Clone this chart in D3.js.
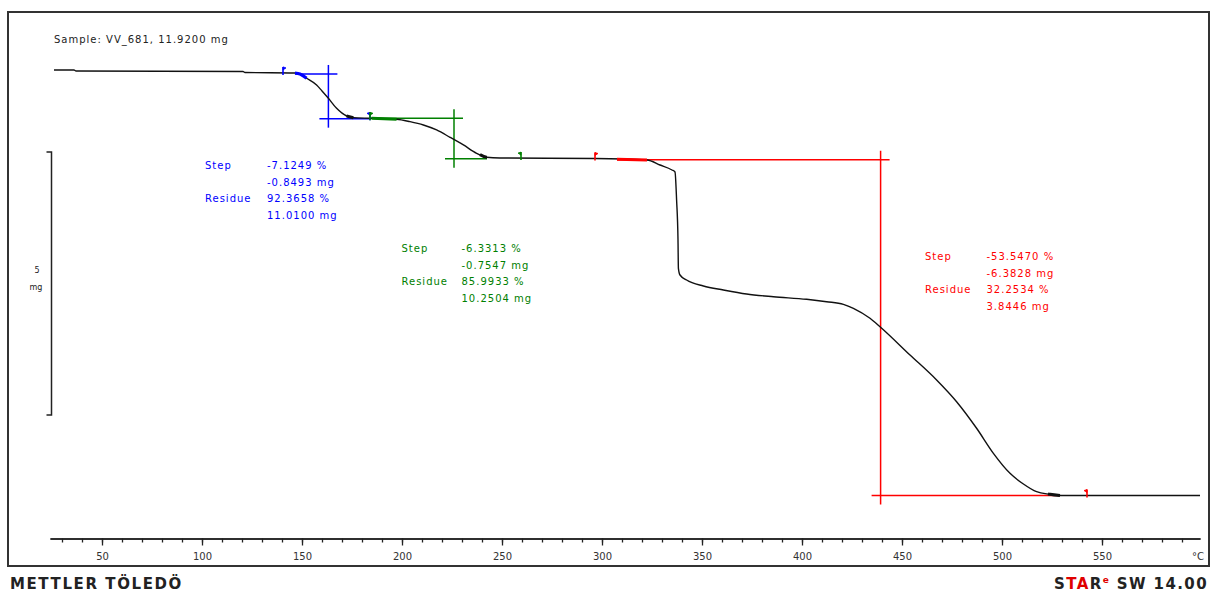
<!DOCTYPE html>
<html><head><meta charset="utf-8">
<script src="https://cdn.jsdelivr.net/npm/d3@7"></script>
<style>
html,body{margin:0;padding:0;background:#fff;}
svg{display:block;}
text{font-family:"DejaVu Sans",sans-serif;}
</style></head><body>
<svg id="chart" width="1213" height="593"></svg>
<script>
// ---- data ----
const temperatureC = [26, 36, 37, 120.5, 121.5, 146.5, 149, 152.3, 157.3, 160, 163.2, 167.3, 172.3, 175.7, 184, 197.3, 204, 210.7, 217.3, 224, 230.7, 237.3, 242.3, 249, 296.5, 322.5, 329, 335, 336.5, 337.3, 338, 338.2, 339, 342.3, 350.7, 360.7, 372.3, 385.7, 402.3, 412.3, 420.7, 425.7, 434, 439, 454, 467.3, 477.3, 487.3, 495.7, 504, 510.7, 517.3, 524, 529, 599];
const massMg = [11.935, 11.935, 11.916, 11.907, 11.888, 11.878, 11.859, 11.778, 11.650, 11.536, 11.397, 11.207, 11.061, 11.029, 11.017, 10.998, 10.953, 10.890, 10.795, 10.656, 10.510, 10.352, 10.276, 10.262, 10.253, 10.224, 10.129, 10.034, 9.996, 9.464, 8.703, 8.165, 8.038, 7.943, 7.829, 7.753, 7.677, 7.625, 7.576, 7.530, 7.481, 7.405, 7.215, 7.055, 6.517, 6.042, 5.629, 5.124, 4.648, 4.268, 4.065, 3.918, 3.869, 3.845, 3.845];

const minorTicks = d3.range(30, 591, 10);
const majorTickLabels = [50, 100, 150, 200, 250, 300, 350, 400, 450, 500, 550];

const stepColors = ["#0000ff", "#008000", "#ff0000"];
const stepStartT = [146.5, 184, 307.5];
const stepInflectionT = [163.2, 226, 439.3];
const stepEndT = [184, 242.5, 529];
const stepUpperMg = [11.86, 11.02, 10.2274];
const stepLowerMg = [11.01, 10.2504, 3.8446];
const onsetThickT = [[146.5, 152.3], [184.8, 197.3], [307.5, 322.5]];
const endThickT = [[172.3, 175.7], [239, 242.5], [523, 529]];
const stepPercent = ["-7.1249 %", "-6.3313 %", "-53.5470 %"];
const stepMass = ["-0.8493 mg", "-0.7547 mg", "-6.3828 mg"];
const residuePercent = ["92.3658 %", "85.9933 %", "32.2534 %"];
const residueMass = ["11.0100 mg", "10.2504 mg", "3.8446 mg"];

const limitT = [140.5, 184, 184, 259.5, 296.5, 542.5];
const limitStep = [0, 0, 1, 1, 2, 2];
const limitDir = [1, -1, 1, -1, 1, -1];

const sampleLabel = "Sample: VV_681, 11.9200 mg";
const scaleBarMg = 5;

// ---- layout ----
const svg = d3.select("#chart");
const x = d3.scaleLinear().domain([24, 599]).range([50, 1200]);
const y = d3.scaleLinear().domain([3, 13]).range([540, 14]);
const axisY = 538.5;

// frame
svg.append("rect").attr("x", 8).attr("y", 12).attr("width", 1201).attr("height", 554)
  .attr("fill", "none").attr("stroke", "#333").attr("stroke-width", 2);

// sample label
svg.append("text").attr("x", 54).attr("y", 43).attr("font-size", 10).attr("letter-spacing", 1)
  .attr("fill", "#222").text(sampleLabel);

// scale bar
const sbTop = 152, sbLen = y(0) - y(scaleBarMg), sbX = 51.5;
svg.append("path").attr("d", `M${sbX-5},${sbTop}H${sbX}V${sbTop+sbLen}H${sbX-5}`)
  .attr("fill", "none").attr("stroke", "#222").attr("stroke-width", 1.5);
svg.append("text").attr("x", 37).attr("y", 273).attr("text-anchor", "middle")
  .attr("font-size", 8).attr("fill", "#222").text(scaleBarMg);
svg.append("text").attr("x", 36).attr("y", 290).attr("text-anchor", "middle")
  .attr("font-size", 8).attr("fill", "#222").text("mg");

// x axis
const gMinor = svg.append("g").attr("transform", `translate(0,${axisY})`)
  .call(d3.axisBottom(x).tickValues(minorTicks).tickSize(4).tickSizeOuter(0).tickFormat(""));
const gMajor = svg.append("g").attr("transform", `translate(0,${axisY})`)
  .call(d3.axisBottom(x).tickValues(majorTickLabels).tickSize(7).tickSizeOuter(0).tickPadding(7.5));
[gMinor, gMajor].forEach(g => {
  g.selectAll("path.domain").attr("stroke", "#222").attr("stroke-width", 1.5);
  g.selectAll(".tick line").attr("stroke", "#222").attr("stroke-width", 1.3);
});
gMajor.selectAll(".tick text").attr("font-family", "DejaVu Sans").attr("font-size", 10)
  .attr("fill", "#333");
svg.append("text").attr("x", 1204).attr("y", 560).attr("text-anchor", "end")
  .attr("font-size", 10).attr("fill", "#333").text("°C");

// curve helpers
const pts = temperatureC.map((t, i) => [t, massMg[i]]);
const massAt = t => {
  const i = d3.bisector(d => d[0]).left(pts, t);
  if (i <= 0) return pts[0][1];
  if (i >= pts.length) return pts[pts.length - 1][1];
  const a = pts[i - 1], b = pts[i];
  return a[1] + (b[1] - a[1]) * (t - a[0]) / (b[0] - a[0]);
};
const segment = (t1, t2) => {
  const inner = pts.filter(p => p[0] > t1 && p[0] < t2);
  return [[t1, massAt(t1)], ...inner, [t2, massAt(t2)]];
};
const line = d3.line().x(d => x(d[0])).y(d => y(d[1])).curve(d3.curveMonotoneX);

// step construction lines
const ext = 9;
stepColors.forEach((c, i) => {
  const g = svg.append("g").attr("stroke", c).attr("stroke-width", 1.5).attr("fill", "none");
  const xi = x(stepInflectionT[i]);
  g.append("line").attr("x1", x(stepStartT[i])).attr("x2", xi + ext)
    .attr("y1", y(stepUpperMg[i])).attr("y2", y(stepUpperMg[i]));
  g.append("line").attr("x1", xi - ext).attr("x2", x(stepEndT[i]))
    .attr("y1", y(stepLowerMg[i])).attr("y2", y(stepLowerMg[i]));
  g.append("line").attr("x1", xi).attr("x2", xi)
    .attr("y1", y(stepUpperMg[i]) - ext).attr("y2", y(stepLowerMg[i]) + ext);
});

// curve
svg.append("path").datum(pts).attr("d", line).attr("fill", "none")
  .attr("stroke", "#111").attr("stroke-width", 1.4);

// thick evaluation ranges
onsetThickT.forEach((r, i) => {
  svg.append("path").datum(segment(r[0], r[1])).attr("d", line).attr("fill", "none")
    .attr("stroke", stepColors[i]).attr("stroke-width", 3);
});
endThickT.forEach(r => {
  svg.append("path").datum(segment(r[0], r[1])).attr("d", line).attr("fill", "none")
    .attr("stroke", "#111").attr("stroke-width", 3);
});

// limit flags
limitT.forEach((t, i) => {
  const px = x(t), py = y(massAt(t)), d = limitDir[i];
  const g = svg.append("g").attr("transform", `translate(${px},${py})`)
    .attr("stroke", stepColors[limitStep[i]]).attr("fill", stepColors[limitStep[i]]);
  g.append("line").attr("x1", 0).attr("x2", 0).attr("y1", 2).attr("y2", -6).attr("stroke-width", 1.6);
  g.append("path").attr("d", `M0,-6L${3 * d},-5L0,-3Z`).attr("stroke-width", 0.8);
});

// annotation texts
const labelX = [205, 401.5, 925];
const valueX = [267, 461.5, 986.5];
const firstBaseline = [169, 252, 260];
const gap = 16.6;
stepColors.forEach((c, i) => {
  const g = svg.append("g").attr("fill", c).attr("font-size", 10).attr("letter-spacing", 1);
  const rows = [["Step", stepPercent[i]], ["", stepMass[i]], ["Residue", residuePercent[i]], ["", residueMass[i]]];
  rows.forEach((r, k) => {
    const by = firstBaseline[i] + k * gap;
    if (r[0]) g.append("text").attr("x", labelX[i]).attr("y", by).text(r[0]);
    g.append("text").attr("x", valueX[i]).attr("y", by).text(r[1]);
  });
});

// footer
svg.append("text").attr("x", 10).attr("y", 589).attr("font-size", 15).attr("font-weight", "bold")
  .attr("letter-spacing", 1.6).attr("fill", "#222").text("METTLER TÖLEDÖ");
const star = svg.append("text").attr("x", 1208).attr("y", 589).attr("text-anchor", "end")
  .attr("font-size", 15).attr("font-weight", "bold").attr("letter-spacing", 1.4).attr("fill", "#222");
star.append("tspan").text("S");
star.append("tspan").attr("fill", "#e00000").text("TA");
star.append("tspan").text("R");
star.append("tspan").attr("fill", "#e00000").attr("font-size", 9).attr("dy", -6).text("e");
star.append("tspan").attr("dy", 6).text(" SW 14.00");
</script>
</body></html>
